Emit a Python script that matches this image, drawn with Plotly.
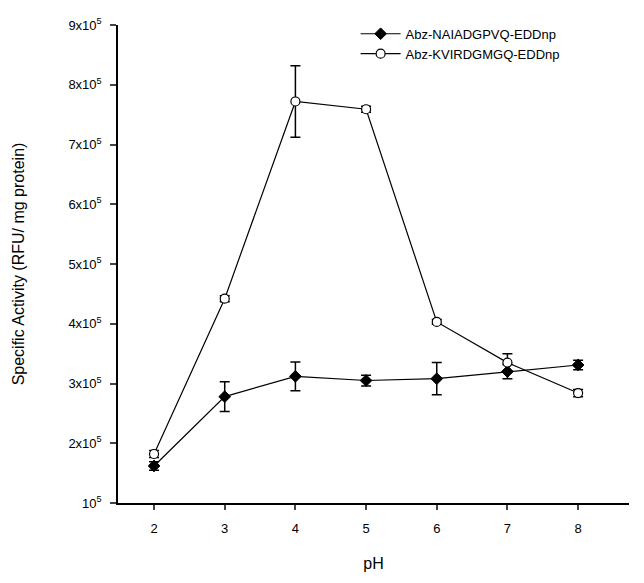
import plotly.graph_objects as go

ph = [2, 3, 4, 5, 6, 7, 8]
naiad = [1.62, 2.78, 3.12, 3.05, 3.08, 3.2, 3.31]
naiad_err = [0.07, 0.25, 0.24, 0.09, 0.27, 0.12, 0.08]
kvird = [1.82, 4.42, 7.72, 7.59, 4.03, 3.35, 2.84]
kvird_err = [0.06, 0.05, 0.6, 0.05, 0.04, 0.15, 0.06]

y_tickvals = [1, 2, 3, 4, 5, 6, 7, 8, 9]
y_ticktext = ["10<sup>5</sup>"] + [f"{v}x10<sup>5</sup>" for v in y_tickvals[1:]]

font = "Liberation Sans, Arial, sans-serif"

fig = go.Figure()
fig.add_trace(go.Scatter(
    x=ph, y=naiad, name="Abz-NAIADGPVQ-EDDnp", mode="lines+markers",
    line=dict(color="black", width=1.2),
    marker=dict(symbol="diamond", size=9, color="black", line=dict(color="black", width=1)),
    error_y=dict(type="data", array=naiad_err, color="black", thickness=1.5, width=5),
))
fig.add_trace(go.Scatter(
    x=ph, y=kvird, name="Abz-KVIRDGMGQ-EDDnp", mode="lines+markers",
    line=dict(color="black", width=1.2),
    marker=dict(symbol="circle", size=9, color="white", line=dict(color="black", width=1.2)),
    error_y=dict(type="data", array=kvird_err, color="black", thickness=1.5, width=5),
))

fig.update_layout(
    width=644, height=583,
    margin=dict(l=118, r=15, t=25, b=80),
    paper_bgcolor="white", plot_bgcolor="white",
    font=dict(family=font, size=12, color="black"),
    showlegend=True,
    legend=dict(x=0.465, y=1.013, xanchor="left", yanchor="top",
                bgcolor="rgba(0,0,0,0)", font=dict(size=13, family=font),
                tracegroupgap=0, itemwidth=40),
    xaxis=dict(range=[1.49, 8.72], tickvals=ph, ticks="outside", ticklen=5,
               tickwidth=1.5, showline=True, linecolor="black", linewidth=1.5,
               showgrid=False, zeroline=False, tickfont=dict(size=13),
               ticklabelstandoff=8,
               title=dict(text="pH", font=dict(size=16), standoff=22)),
    yaxis=dict(range=[1, 9], tickvals=y_tickvals, ticktext=y_ticktext,
               ticks="outside", ticklen=6, tickwidth=1.5, showline=True,
               linecolor="black", linewidth=1.5, showgrid=False, zeroline=False,
               tickfont=dict(size=13), ticklabelstandoff=6,
               title=dict(text="Specific Activity (RFU/ mg protein)", font=dict(size=16), standoff=40)),
)

fig.write_html("out.html")
